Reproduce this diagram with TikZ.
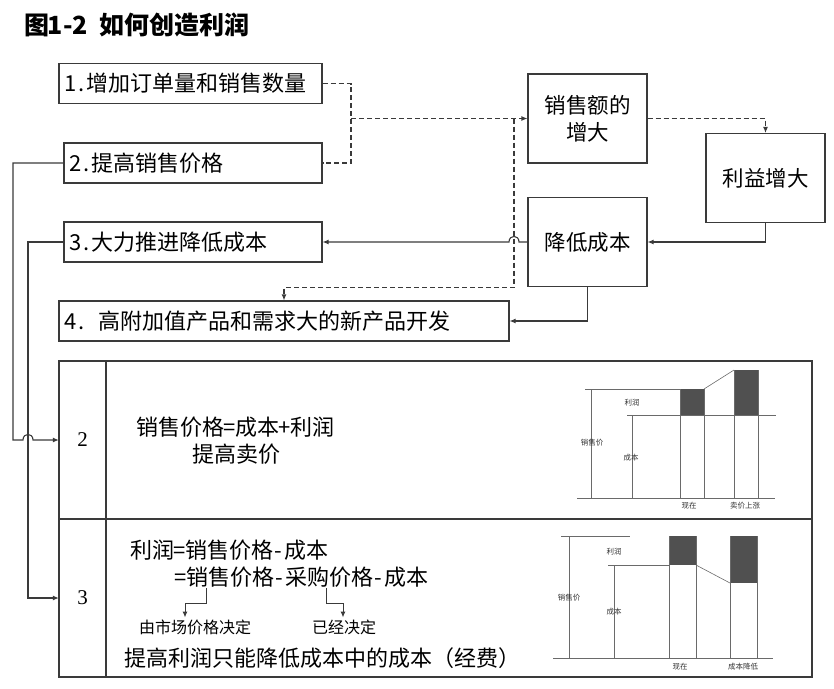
\documentclass[tikz,border=0pt]{standalone}
\usepackage{fontspec}
\setmainfont{Liberation Serif}
\newfontfamily\cjk{Noto Sans CJK SC}
\usetikzlibrary{arrows.meta,calc}
\definecolor{linec}{HTML}{3A3A3A}
\definecolor{chartc}{HTML}{6A6A6A}
\definecolor{barc}{HTML}{505050}
\newcommand{\hw}[1]{\makebox[0.5em]{#1}}
\begin{document}
\begin{tikzpicture}[x=1pt,y=-1pt,
  sl/.style={draw=linec,line width=1.1pt},
  dl/.style={draw=linec,line width=1.1pt,dash pattern=on 5pt off 3pt},
  arr/.style={-{Latex[length=6pt,width=5pt]}},
  box/.style={sl,inner xsep=6pt,inner ysep=0pt,minimum height=40pt,align=left,
    font=\cjk\fontsize{22}{27}\selectfont},
  cbox/.style={sl,inner sep=0pt,minimum width=119pt,minimum height=89pt,align=center,
    font=\cjk\fontsize{21.5}{27}\selectfont},
  txt/.style={anchor=west,inner sep=0pt,font=\cjk\fontsize{22}{25}\selectfont},
  stxt/.style={anchor=west,inner sep=0pt,font=\cjk\fontsize{16}{18}\selectfont},
  num/.style={inner sep=0pt,minimum width=47pt,minimum height=158pt,font=\fontsize{21}{21}\selectfont},
  cl/.style={draw=chartc,line width=0.6pt},
  lab/.style={inner sep=0pt,font=\cjk\fontsize{7.5}{8}\selectfont,text=black!80}]
\useasboundingbox (0,0) rectangle (834,688);

% title
\node[anchor=west,inner sep=0pt,font=\cjk\bfseries\fontsize{25}{28}\selectfont] (title) at (24,25) {图\hw{1}\hw{-}\hw{2}\hspace{0.5em}如何创造利润};

% boxes
\node[box,text width=251pt] (b1) at (190.5,83.5) {\hw{1}\hw{.}增加订单量和销售数量};
\node[box,text width=246pt] (b2) at (193,163) {\hw{2}\hw{.}提高销售价格};
\node[box,text width=246pt] (b3) at (193,242) {\hw{3}\hw{.}大力推进降低成本};
\node[box,text width=438pt] (b4) at (284,321) {\hw{4}\hw{.}\hspace{12pt}高附加值产品和需求大的新产品开发};
\node[cbox] (sales) at (587.5,118.5) {销售额的\\增大};
\node[cbox] (profit) at (765.5,178) {利益增大};
\node[cbox] (cost) at (587.5,242) {降低成本};

% connectors
\coordinate (J) at (351,118.5);
\coordinate (K) at (514,118.5);
\draw[dl] (b1.east) -| (J) |- (b2.east);
\draw[dl,arr] (J) -- (sales.west);
\draw[dl,arr] (K) -- (K |- cost.south) -| (b4.north);
\draw[dl,arr] (sales.east) -| (profit.north);
\draw[sl,arr] (profit.south) |- (cost.east);
\draw[sl,arr] (cost.west) -- (519,242) .. controls (519,234.5) and (509,234.5) .. (509,242) -- (b3.east);
\draw[sl,arr] (cost.south) |- (b4.east);

% table
\draw[sl] (59,361) rectangle (812,677);
\draw[sl] (59,519) -- (812,519);
\draw[sl] (106,361) -- (106,677);
\node[num] (n2) at (82.5,440) {2};
\node[num] (n3) at (82.5,598) {3};

\draw[sl,arr] (b2.west) -- (13,163) -- (13,440) -- (23,440) .. controls (23,432.5) and (33,432.5) .. (33,440) -- (n2.west);
\draw[sl,arr] (b3.west) -| (28,598) -- (n3.west);

% row 2 text
\node[txt] (f1) at (136,427) {销售价格\hw{=}成本\hw{+}利润};
\node[txt] (f2) at (192,454) {提高卖价};

% row 3 text
\node[txt] (g1) at (130,550) {利润\hw{=}销售价格\hw{-}成本};
\node[txt] (g2) at (175,577) {\hw{=}销售价格\hw{-}采购价格\hw{-}成本};
\node[stxt] (mkt) at (139,627) {由市场价格决定};
\node[stxt] (fix) at (312,627) {已经决定};
\node[txt] (g3) at (124,658) {提高利润只能降低成本中的成本（经费）};
\coordinate (a1) at (206,588);
\coordinate (a1e) at (185,617.5);
\coordinate (a2) at (326,588);
\coordinate (a2e) at (343,617.5);
\draw[draw=linec,line width=1pt,arr] (a1) -- (206,603) -| (a1e);
\draw[draw=linec,line width=1pt,arr] (a2) -- (326,603) -| (a2e);

% chart row 2
\fill[barc] (680,389) rectangle (704,415);
\fill[barc] (734,370) rectangle (758,415);
\draw[cl] (577,498) -- (775,498);
\draw[cl] (585,389) -- (680,389);
\draw[cl] (591,389) -- (591,498);
\draw[cl] (627,415) -- (776,415);
\draw[cl] (632,415) -- (632,498);
\draw[cl] (680,389) -- (680,498) (704,389) -- (704,498);
\draw[cl] (734,370) -- (734,498) (758,370) -- (758,498);
\draw[cl] (704,389) -- (734,370);
\node[lab] (c2a) at (632,403) {利润};
\node[lab] (c2b) at (592,443) {销售价};
\node[lab] (c2c) at (631,458) {成本};
\node[lab] (c2d) at (689,506) {现在};
\node[lab] (c2e) at (745,506) {卖价上涨};

% chart row 3
\fill[barc] (669,536) rectangle (696,565);
\fill[barc] (730,536) rectangle (757,583);
\draw[cl] (553,658) -- (773,658);
\draw[cl] (561,536) -- (630,536);
\draw[cl] (569,536) -- (569,658);
\draw[cl] (608,565) -- (669,565);
\draw[cl] (614,565) -- (614,658);
\draw[cl] (669,536) -- (669,658) (696,536) -- (696,658);
\draw[cl] (730,536) -- (730,658) (757,536) -- (757,658);
\draw[cl] (696,565) -- (730,583);
\node[lab] (c3a) at (614,552) {利润};
\node[lab] (c3b) at (569,598) {销售价};
\node[lab] (c3c) at (614,612) {成本};
\node[lab] (c3d) at (680,667) {现在};
\node[lab] (c3e) at (743,667) {成本降低};
\end{tikzpicture}
\end{document}
